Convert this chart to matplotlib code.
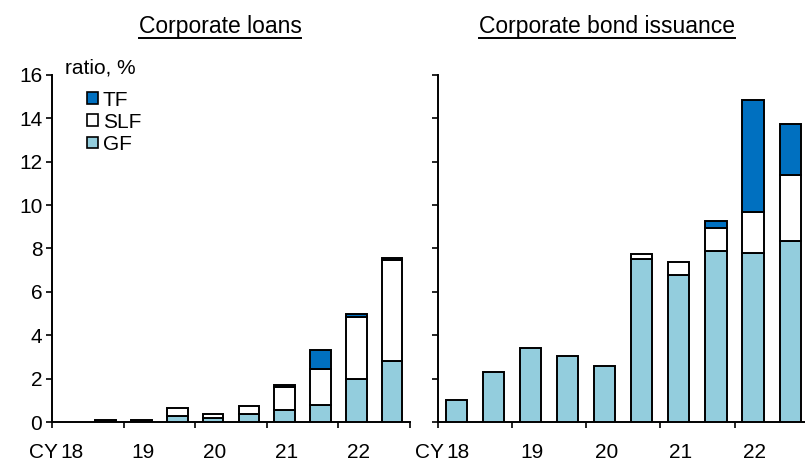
import numpy as np
import matplotlib
matplotlib.use('Agg')
import matplotlib.pyplot as plt
from matplotlib.patches import Patch
from matplotlib.lines import Line2D

plt.rcParams['font.family'] = ['Liberation Sans', 'DejaVu Sans']

# half-year bars, two per calendar year (CY18 .. CY22)
years = ['18', '19', '20', '21', '22']

# Corporate loans (ratio, %)
loans_gf = [0.0, 0.03, 0.03, 0.28, 0.17, 0.37, 0.54, 0.80, 1.98, 2.81]
loans_slf = [0.0, 0.03, 0.03, 0.37, 0.20, 0.36, 1.09, 1.63, 2.88, 4.66]
loans_tf = [0.0, 0.04, 0.04, 0.0, 0.0, 0.0, 0.08, 0.91, 0.10, 0.10]

# Corporate bond issuance (ratio, %)
bond_gf = [1.03, 2.32, 3.40, 3.04, 2.58, 7.51, 6.80, 7.88, 7.80, 8.33]
bond_slf = [0.0, 0.0, 0.0, 0.0, 0.0, 0.23, 0.57, 1.07, 1.89, 3.08]
bond_tf = [0.0, 0.0, 0.0, 0.0, 0.0, 0.0, 0.0, 0.31, 5.15, 2.35]

c_gf = '#93cddd'
c_slf = '#ffffff'
c_tf = '#0070c0'
fs = 15

fig = plt.figure(figsize=(8.05, 4.61), dpi=100)
ax1 = fig.add_axes([52/805, 39/461, 358/805, 347/461])
ax2 = fig.add_axes([437.7/805, 39/461, 371/805, 347/461])


def draw(ax, gf, slf, tf, ylabels):
    x = np.arange(len(gf))
    gf = np.array(gf)
    slf = np.array(slf)
    tf = np.array(tf)
    kw = dict(width=0.57, edgecolor='black', linewidth=1.4, zorder=3)
    m = gf > 0
    ax.bar(x[m], gf[m], color=c_gf, **kw)
    m = slf > 0
    ax.bar(x[m], slf[m], bottom=gf[m], color=c_slf, **kw)
    m = tf > 0
    ax.bar(x[m], tf[m], bottom=(gf + slf)[m], color=c_tf, **kw)

    ax.set_xlim(-0.5, len(gf) - 0.5)
    ax.set_ylim(0, 16)
    ax.set_yticks(np.arange(0, 17, 2))
    if not ylabels:
        ax.set_yticklabels([])
    ax.set_xticks(np.arange(-0.5, len(gf), 2))
    ax.set_xticklabels([])
    ax.set_xticks(np.arange(0, len(gf), 2) + 0.05, minor=True)
    ax.set_xticklabels(years, minor=True)
    ax.tick_params(which='major', direction='out', length=4, width=1.2,
                   labelsize=fs, pad=3)
    ax.tick_params(axis='x', which='minor', length=0, labelsize=fs, pad=15)
    for s in ['top', 'right']:
        ax.spines[s].set_visible(False)
    for s in ['left', 'bottom']:
        ax.spines[s].set_linewidth(1.4)
    ax.text(-0.33, -0.087, 'CY', transform=ax.get_xaxis_transform(),
            ha='right', va='center', fontsize=fs)


draw(ax1, loans_gf, loans_slf, loans_tf, True)
draw(ax2, bond_gf, bond_slf, bond_tf, False)

ax1.text(0.036, 1.02, 'ratio, %', transform=ax1.transAxes,
         ha='left', va='center', fontsize=fs)

handles = [Patch(facecolor=c_tf, edgecolor='black', linewidth=1.2, label='TF'),
           Patch(facecolor=c_slf, edgecolor='black', linewidth=1.2, label='SLF'),
           Patch(facecolor=c_gf, edgecolor='black', linewidth=1.2, label='GF')]
ax1.legend(handles=handles, loc='upper left', bbox_to_anchor=(0.098, 0.955),
           frameon=False, fontsize=fs, handlelength=0.5, handleheight=0.5,
           handletextpad=0.25, labelspacing=0.15, borderpad=0, borderaxespad=0)

# underlined panel titles
titles = [fig.text(220/805, 1 - 26/461, 'Corporate loans', ha='center',
                   va='center', fontsize=16.5),
          fig.text(607/805, 1 - 26/461, 'Corporate bond issuance', ha='center',
                   va='center', fontsize=16.5)]
fig.canvas.draw()
r = fig.canvas.get_renderer()
for t in titles:
    bb = t.get_window_extent(r)
    y = (461 - 38) / 461
    fig.add_artist(Line2D([bb.x0 / 805, bb.x1 / 805], [y, y],
                          transform=fig.transFigure, color='black', linewidth=1.4))

fig.savefig('out.png', dpi=100)
